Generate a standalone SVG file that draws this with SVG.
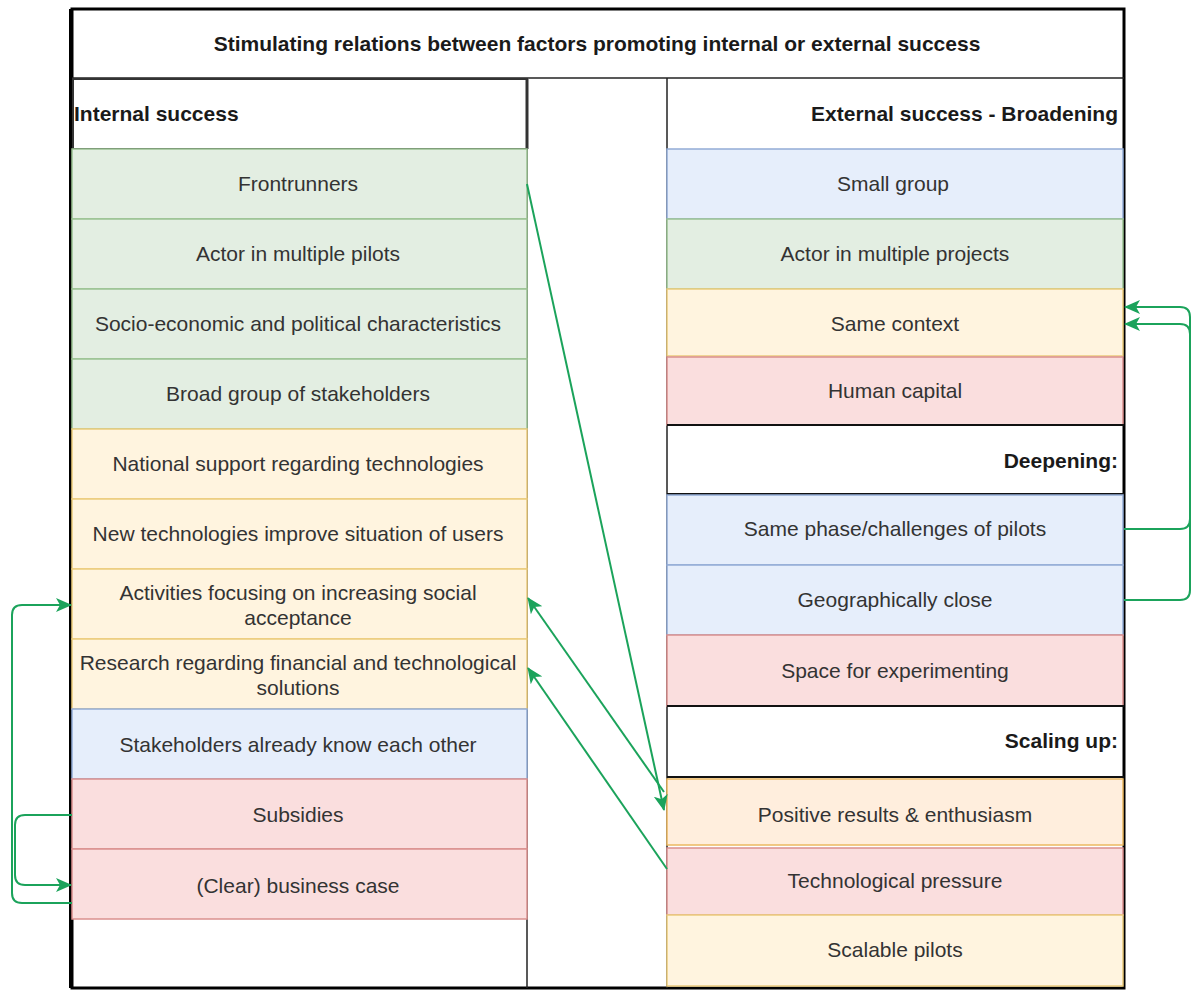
<svg xmlns="http://www.w3.org/2000/svg" width="1192" height="990" viewBox="0 0 1192 990">
  <style>
    .t { font-family: "Liberation Sans", Arial, sans-serif; font-size: 21px; fill: #333333; text-anchor: middle; }
    .h { font-family: "Liberation Sans", Arial, sans-serif; font-size: 21px; font-weight: bold; fill: #1a1a1a; }
    .green  { fill: #E3EEE2; stroke: #9BC292; stroke-width: 1.5; }
    .blue   { fill: #E6EEFB; stroke: #93ACD6; stroke-width: 1.5; }
    .yellow { fill: #FFF4DF; stroke: #EBCB7C; stroke-width: 1.5; }
    .red    { fill: #FADEDE; stroke: #DA908E; stroke-width: 1.5; }
    .orange { fill: #FFEEDD; stroke: #EBB860; stroke-width: 1.5; }
    .conn { fill: none; stroke: #1BA35B; stroke-width: 2; marker-end: url(#arrow); }
  </style>
  <defs>
    <marker id="arrow" markerUnits="userSpaceOnUse" viewBox="0 0 16 14" markerWidth="16" markerHeight="14" refX="15" refY="7" orient="auto">
      <path d="M0,0 L16,7 L0,14 L4,7 z" fill="#1BA35B"/>
    </marker>
  </defs>

  <!-- frame and column separators -->
  <rect x="0" y="0" width="1192" height="990" fill="#ffffff"/>
  <rect x="72" y="9" width="1052" height="979" fill="#ffffff" stroke="#000000" stroke-width="3"/>
  <line x1="71" y1="9" x2="71" y2="988" stroke="#000000" stroke-width="4"/>
  <line x1="72" y1="78" x2="1124" y2="78" stroke="#222222" stroke-width="1.5"/>
  <line x1="527" y1="78" x2="527" y2="988" stroke="#222222" stroke-width="1.5"/>
  <line x1="667" y1="78" x2="667" y2="988" stroke="#222222" stroke-width="1.5"/>
  <text class="h" x="597" y="51" text-anchor="middle">Stimulating relations between factors promoting internal or external success</text>

  <!-- internal success column -->
  <g id="internal-header">
    <rect x="73" y="79" width="454" height="70" fill="#ffffff" stroke="#333333" stroke-width="2"/>
    <line x1="527" y1="79" x2="527" y2="149" stroke="#333333" stroke-width="3"/>
    <text class="h" x="74" y="121">Internal success</text>
  </g>
  <g id="frontrunners"><rect class="green" x="72" y="149" width="455" height="70"/><text class="t" x="298" y="191">Frontrunners</text></g>
  <g id="actor-pilots"><rect class="green" x="72" y="219" width="455" height="70"/><text class="t" x="298" y="261">Actor in multiple pilots</text></g>
  <g id="socio-economic"><rect class="green" x="72" y="289" width="455" height="70"/><text class="t" x="298" y="331">Socio-economic and political characteristics</text></g>
  <g id="broad-group"><rect class="green" x="72" y="359" width="455" height="70"/><text class="t" x="298" y="401">Broad group of stakeholders</text></g>
  <g id="national-support"><rect class="yellow" x="72" y="429" width="455" height="70"/><text class="t" x="298" y="471">National support regarding technologies</text></g>
  <g id="new-technologies"><rect class="yellow" x="72" y="499" width="455" height="70"/><text class="t" x="298" y="541">New technologies improve situation of users</text></g>
  <g id="activities"><rect class="yellow" x="72" y="569" width="455" height="70"/><text class="t" x="298" y="600">Activities focusing on increasing social</text><text class="t" x="298" y="625">acceptance</text></g>
  <g id="research"><rect class="yellow" x="72" y="639" width="455" height="70"/><text class="t" x="298" y="670">Research regarding financial and technological</text><text class="t" x="298" y="695">solutions</text></g>
  <g id="stakeholders-know"><rect class="blue" x="72" y="709" width="455" height="70"/><text class="t" x="298" y="752">Stakeholders already know each other</text></g>
  <g id="subsidies"><rect class="red" x="72" y="779" width="455" height="70"/><text class="t" x="298" y="822">Subsidies</text></g>
  <g id="business-case"><rect class="red" x="72" y="849" width="455" height="70"/><text class="t" x="298" y="893">(Clear) business case</text></g>

  <!-- external success column -->
  <g id="external-header">
    <text class="h" x="1118" y="121" text-anchor="end">External success - Broadening</text>
  </g>
  <g id="small-group"><rect class="blue" x="667" y="149" width="456" height="70"/><text class="t" x="893" y="191">Small group</text></g>
  <g id="actor-projects"><rect class="green" x="667" y="219" width="456" height="70"/><text class="t" x="895" y="261">Actor in multiple projects</text></g>
  <g id="same-context"><rect class="yellow" x="667" y="289" width="456" height="67"/><text class="t" x="895" y="331">Same context</text></g>
  <g id="human-capital"><rect class="red" x="667" y="357" width="456" height="68"/><text class="t" x="895" y="398">Human capital</text></g>
  <g id="deepening-header">
    <line x1="667" y1="425" x2="1124" y2="425" stroke="#111111" stroke-width="2"/>
    <line x1="667" y1="494" x2="1124" y2="494" stroke="#111111" stroke-width="2"/>
    <text class="h" x="1118" y="468" text-anchor="end">Deepening:</text>
  </g>
  <g id="same-phase"><rect class="blue" x="667" y="495" width="456" height="70"/><text class="t" x="895" y="536">Same phase/challenges of pilots</text></g>
  <g id="geographically-close"><rect class="blue" x="667" y="565" width="456" height="70"/><text class="t" x="895" y="607">Geographically close</text></g>
  <g id="space-experimenting"><rect class="red" x="667" y="635" width="456" height="71"/><text class="t" x="895" y="678">Space for experimenting</text></g>
  <g id="scaling-header">
    <line x1="667" y1="706" x2="1124" y2="706" stroke="#111111" stroke-width="2"/>
    <line x1="667" y1="777" x2="1124" y2="777" stroke="#111111" stroke-width="2"/>
    <text class="h" x="1118" y="748" text-anchor="end">Scaling up:</text>
  </g>
  <g id="positive-results"><rect class="orange" x="667" y="779" width="456" height="66"/><text class="t" x="895" y="822">Positive results &amp; enthusiasm</text></g>
  <g id="technological-pressure"><rect class="red" x="667" y="848" width="456" height="67"/><text class="t" x="895" y="888">Technological pressure</text></g>
  <g id="scalable-pilots"><rect class="yellow" x="667" y="915" width="456" height="71"/><text class="t" x="895" y="957">Scalable pilots</text></g>

  <!-- connectors -->
  <g id="connectors">
    <path class="conn" d="M527,184 L664,810"/>
    <path class="conn" d="M664,792 L528,598"/>
    <path class="conn" d="M667,869 L528,668"/>
    <path class="conn" d="M1124,529 L1180,529 Q1190,529 1190,519 L1190,334 Q1190,324 1180,324 L1125,324"/>
    <path class="conn" d="M1124,600 L1180,600 Q1190,600 1190,590 L1190,317 Q1190,307 1180,307 L1125,307"/>
    <path class="conn" d="M72,903 L22,903 Q12,903 12,893 L12,615 Q12,605 22,605 L71,605"/>
    <path class="conn" d="M72,815 L25,815 Q15,815 15,825 L15,875 Q15,885 25,885 L71,885"/>
  </g>
</svg>
